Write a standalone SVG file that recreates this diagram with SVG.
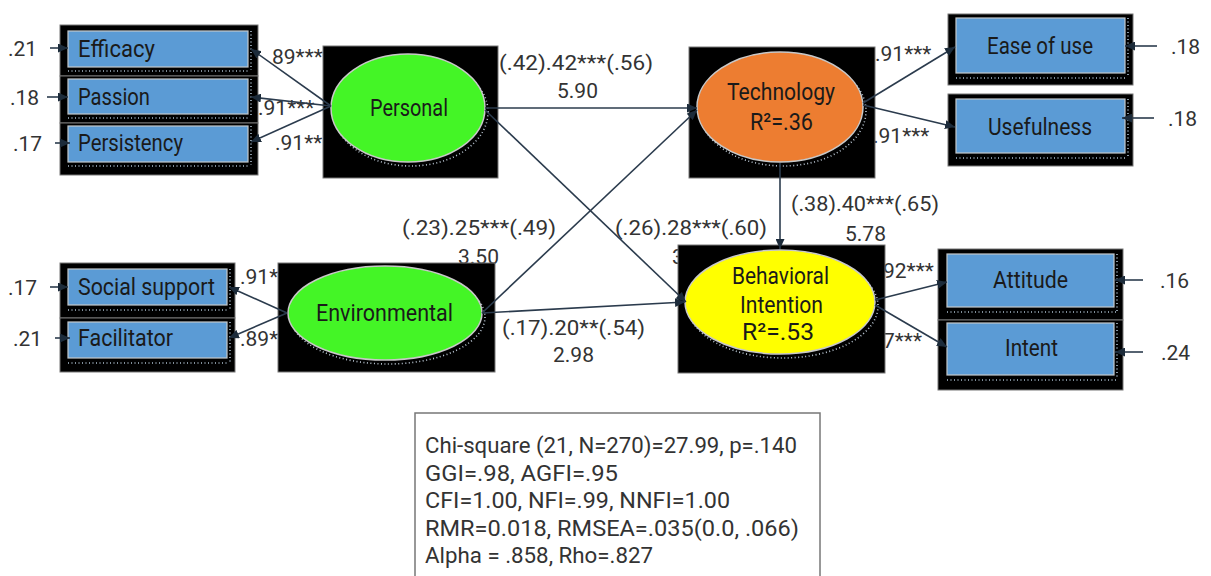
<svg xmlns="http://www.w3.org/2000/svg" width="1211" height="576" viewBox="0 0 1211 576">
  <style>
    .lbl { font-family: Roboto, "Liberation Sans", sans-serif; font-size: 21px; fill: #333; }
    .box-txt { font-family: Roboto, "Liberation Sans", sans-serif; font-size: 24px; fill: #1a1a1a; }
    .stat { font-family: Roboto, "Liberation Sans", sans-serif; font-size: 22px; fill: #333; }
    .frame { fill: #000; stroke: #777; stroke-width: 1; }
    .ind { fill: #5b9bd5; stroke: #c4c8cc; stroke-width: 1.2; }
    .dots { fill: none; stroke: #a9bccc; stroke-width: 1.6; stroke-dasharray: 1 2.5; }
    .lat-shadow { fill: none; stroke: #b8c4d0; stroke-width: 1.6; stroke-dasharray: 1 2.5; }
    .lat { stroke: #c8c8c8; stroke-width: 1.5; }
    .conn { fill: none; stroke: #2b3b4d; stroke-width: 1.6; marker-end: url(#arrow); }
  </style>
  <defs>
    <marker id="arrow" markerUnits="userSpaceOnUse" markerWidth="11" markerHeight="9" refX="10" refY="4.5" orient="auto">
      <path d="M0,0 L10,4.5 L0,9 z" fill="#1c2b3a"/>
    </marker>
  </defs>

  <rect width="1211" height="576" fill="#fff"/>

  <!-- path coefficients and error variances -->
  <g id="labels">
    <text class="lbl" x="272" y="64">89***</text>
    <text class="lbl" x="258" y="115">.91***</text>
    <text class="lbl" x="275" y="150">.91**</text>
    <text class="lbl" x="499" y="69.5" textLength="154" lengthAdjust="spacingAndGlyphs">(.42).42***(.56)</text>
    <text class="lbl" x="557" y="97.5">5.90</text>
    <text class="lbl" x="875" y="60.5">.91***</text>
    <text class="lbl" x="873" y="142.5">.91***</text>
    <text class="lbl" x="791" y="210.5" textLength="148" lengthAdjust="spacingAndGlyphs">(.38).40***(.65)</text>
    <text class="lbl" x="845" y="240.5">5.78</text>
    <text class="lbl" x="615" y="234.5" textLength="152" lengthAdjust="spacingAndGlyphs">(.26).28***(.60)</text>
    <text class="lbl" x="672" y="264">3</text>
    <text class="lbl" x="402" y="234.5" textLength="154" lengthAdjust="spacingAndGlyphs">(.23).25***(.49)</text>
    <text class="lbl" x="458" y="264">3.50</text>
    <text class="lbl" x="502" y="334.5" textLength="143" lengthAdjust="spacingAndGlyphs">(.17).20**(.54)</text>
    <text class="lbl" x="553" y="361.5">2.98</text>
    <text class="lbl" x="240" y="283.5">.91*</text>
    <text class="lbl" x="240" y="345.5">.89*</text>
    <text class="lbl" x="883" y="277.5">92***</text>
    <text class="lbl" x="883" y="347.5">7***</text>

    <text class="lbl" x="8" y="56">.21</text>
    <text class="lbl" x="10" y="104.5">.18</text>
    <text class="lbl" x="13" y="150.5">.17</text>
    <text class="lbl" x="8" y="294.5">.17</text>
    <text class="lbl" x="13" y="345.5">.21</text>
    <text class="lbl" x="1171" y="53.5">.18</text>
    <text class="lbl" x="1168" y="125.5">.18</text>
    <text class="lbl" x="1160" y="287.5">.16</text>
    <text class="lbl" x="1161" y="359.5">.24</text>
  </g>

  <!-- observed indicators: personal -->
  <g id="efficacy">
    <rect class="frame" x="60" y="25" width="198" height="51"/>
    <rect class="ind" x="68" y="31" width="180" height="36"/>
    <line class="dots" x1="68" y1="71" x2="250" y2="71"/>
    <line class="dots" x1="251" y1="31" x2="251" y2="70"/>
    <text class="box-txt" x="78" y="57" textLength="77" lengthAdjust="spacingAndGlyphs">Efficacy</text>
  </g>
  <g id="passion">
    <rect class="frame" x="60" y="76" width="198" height="47"/>
    <rect class="ind" x="68" y="79" width="180" height="35"/>
    <line class="dots" x1="68" y1="118" x2="250" y2="118"/>
    <line class="dots" x1="251" y1="79" x2="251" y2="117"/>
    <text class="box-txt" x="78" y="105" textLength="72" lengthAdjust="spacingAndGlyphs">Passion</text>
  </g>
  <g id="persistency">
    <rect class="frame" x="60" y="123" width="198" height="52"/>
    <rect class="ind" x="68" y="126" width="180" height="36"/>
    <line class="dots" x1="68" y1="166" x2="250" y2="166"/>
    <line class="dots" x1="251" y1="126" x2="251" y2="165"/>
    <text class="box-txt" x="78" y="151" textLength="105" lengthAdjust="spacingAndGlyphs">Persistency</text>
  </g>

  <!-- observed indicators: environmental -->
  <g id="social-support">
    <rect class="frame" x="60" y="263" width="175" height="55"/>
    <rect class="ind" x="68" y="269" width="159" height="36"/>
    <line class="dots" x1="68" y1="310" x2="229" y2="310"/>
    <line class="dots" x1="230" y1="269" x2="230" y2="309"/>
    <text class="box-txt" x="78" y="295" textLength="137" lengthAdjust="spacingAndGlyphs">Social support</text>
  </g>
  <g id="facilitator">
    <rect class="frame" x="60" y="318" width="175" height="54"/>
    <rect class="ind" x="68" y="322" width="159" height="36"/>
    <line class="dots" x1="68" y1="363" x2="229" y2="363"/>
    <line class="dots" x1="230" y1="322" x2="230" y2="362"/>
    <text class="box-txt" x="78" y="346" textLength="95" lengthAdjust="spacingAndGlyphs">Facilitator</text>
  </g>

  <!-- latent constructs -->
  <g id="personal">
    <rect class="frame" x="323" y="46" width="175" height="132"/>
    <ellipse class="lat-shadow" cx="411" cy="112" rx="77" ry="54"/>
    <ellipse class="lat" cx="408" cy="108" rx="77" ry="54" fill="#44f526"/>
    <text class="box-txt" x="370" y="116" textLength="78" lengthAdjust="spacingAndGlyphs">Personal</text>
  </g>
  <g id="environmental">
    <rect class="frame" x="278" y="263" width="217" height="109"/>
    <ellipse class="lat-shadow" cx="388" cy="317" rx="97" ry="47"/>
    <ellipse class="lat" cx="385" cy="313" rx="97" ry="47" fill="#44f526"/>
    <text class="box-txt" x="316" y="321" textLength="137" lengthAdjust="spacingAndGlyphs">Environmental</text>
  </g>
  <g id="technology">
    <rect class="frame" x="689" y="47" width="186" height="131"/>
    <ellipse class="lat-shadow" cx="783" cy="111" rx="83" ry="55"/>
    <ellipse class="lat" cx="780" cy="107" rx="83" ry="55" fill="#ed7d31"/>
    <text class="box-txt" x="727" y="100" textLength="108" lengthAdjust="spacingAndGlyphs">Technology</text>
    <text class="box-txt" x="750" y="130" textLength="63" lengthAdjust="spacingAndGlyphs">R²=.36</text>
  </g>
  <g id="behavioral-intention">
    <rect class="frame" x="678" y="245" width="207" height="128"/>
    <ellipse class="lat-shadow" cx="783" cy="306" rx="95" ry="52"/>
    <ellipse class="lat" cx="780" cy="302" rx="95" ry="52" fill="#ffff00"/>
    <text class="box-txt" x="732" y="284" textLength="97" lengthAdjust="spacingAndGlyphs">Behavioral</text>
    <text class="box-txt" x="740" y="313" textLength="83" lengthAdjust="spacingAndGlyphs">Intention</text>
    <text class="box-txt" x="742" y="340" textLength="72" lengthAdjust="spacingAndGlyphs">R²=.53</text>
  </g>

  <!-- observed indicators: outcomes -->
  <g id="ease-of-use">
    <rect class="frame" x="948" y="14" width="185" height="71"/>
    <rect class="ind" x="956" y="18" width="169" height="55"/>
    <line class="dots" x1="956" y1="78" x2="1127" y2="78"/>
    <line class="dots" x1="1128" y1="18" x2="1128" y2="77"/>
    <text class="box-txt" x="987" y="54" textLength="106" lengthAdjust="spacingAndGlyphs">Ease of use</text>
  </g>
  <g id="usefulness">
    <rect class="frame" x="948" y="94" width="185" height="72"/>
    <rect class="ind" x="956" y="99" width="169" height="54"/>
    <line class="dots" x1="956" y1="158" x2="1127" y2="158"/>
    <line class="dots" x1="1128" y1="99" x2="1128" y2="157"/>
    <text class="box-txt" x="988" y="135" textLength="104" lengthAdjust="spacingAndGlyphs">Usefulness</text>
  </g>
  <g id="attitude">
    <rect class="frame" x="938" y="249" width="185" height="71"/>
    <rect class="ind" x="947" y="254" width="167" height="53"/>
    <line class="dots" x1="947" y1="312" x2="1116" y2="312"/>
    <line class="dots" x1="1117" y1="254" x2="1117" y2="311"/>
    <text class="box-txt" x="993" y="288" textLength="75" lengthAdjust="spacingAndGlyphs">Attitude</text>
  </g>
  <g id="intent">
    <rect class="frame" x="938" y="320" width="185" height="70"/>
    <rect class="ind" x="947" y="323" width="167" height="52"/>
    <line class="dots" x1="947" y1="380" x2="1116" y2="380"/>
    <line class="dots" x1="1117" y1="323" x2="1117" y2="379"/>
    <text class="box-txt" x="1005" y="356" textLength="53" lengthAdjust="spacingAndGlyphs">Intent</text>
  </g>

  <!-- structural paths, loadings and error terms -->
  <g id="connectors">
    <path class="conn" d="M331,106 L251,49"/>
    <path class="conn" d="M331,106 L251,97"/>
    <path class="conn" d="M331,106 L251,142"/>
    <path class="conn" d="M287,313 L229,287"/>
    <path class="conn" d="M287,313 L229,338"/>
    <path class="conn" d="M485,108 L697,108"/>
    <path class="conn" d="M485,110 L686,302"/>
    <path class="conn" d="M482,313 L697,110"/>
    <path class="conn" d="M482,313 L685,302"/>
    <path class="conn" d="M780,163 L780,249"/>
    <path class="conn" d="M863,103 L955,47"/>
    <path class="conn" d="M863,105 L955,127"/>
    <path class="conn" d="M875,300 L947,282"/>
    <path class="conn" d="M875,305 L947,347"/>

    <path class="conn" d="M50,48 L68,48"/>
    <path class="conn" d="M47,97 L68,97"/>
    <path class="conn" d="M55,143 L70,143"/>
    <path class="conn" d="M50,287 L68,287"/>
    <path class="conn" d="M55,338 L70,338"/>
    <path class="conn" d="M1157,46 L1125,46"/>
    <path class="conn" d="M1154,118 L1122,118"/>
    <path class="conn" d="M1143,280 L1115,280"/>
    <path class="conn" d="M1143,352 L1115,352"/>
  </g>

  <!-- model fit summary -->
  <g id="fit-indices">
    <rect x="415" y="413" width="405" height="180" fill="#fff" stroke="#777" stroke-width="1.5"/>
    <text class="stat" x="425" y="453" textLength="372" lengthAdjust="spacingAndGlyphs">Chi-square (21, N=270)=27.99, p=.140</text>
    <text class="stat" x="425" y="481" textLength="193" lengthAdjust="spacingAndGlyphs">GGI=.98, AGFI=.95</text>
    <text class="stat" x="425" y="508" textLength="305" lengthAdjust="spacingAndGlyphs">CFI=1.00, NFI=.99, NNFI=1.00</text>
    <text class="stat" x="425" y="536" textLength="374" lengthAdjust="spacingAndGlyphs">RMR=0.018, RMSEA=.035(0.0, .066)</text>
    <text class="stat" x="425" y="563" textLength="228" lengthAdjust="spacingAndGlyphs">Alpha = .858, Rho=.827</text>
  </g>
</svg>
